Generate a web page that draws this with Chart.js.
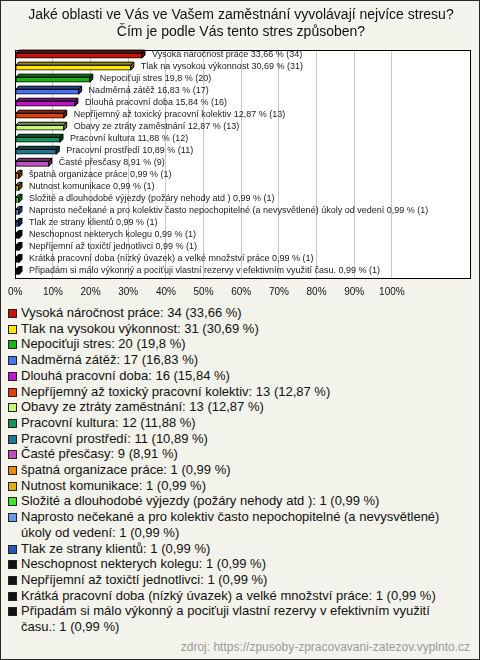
<!DOCTYPE html>
<html>
<head>
<meta charset="utf-8">
<script src="https://cdn.jsdelivr.net/npm/chart.js@4/dist/chart.umd.min.js"></script>
<style>
  html, body { margin: 0; padding: 0; }
  body { width: 480px; height: 660px; overflow: hidden; font-family: "Liberation Sans", Arial, sans-serif; }
  #frame { position: relative; width: 480px; height: 660px; box-sizing: border-box; border: 1px solid #2a2a2a; background: #f3f2eb; }
  #c { position: absolute; left: -1px; top: -1px; }
  #legend { position: absolute; left: 6px; top: 304px; width: 455px; font-size: 13px; line-height: 15.7px; color: #111; }
  .item { display: flex; align-items: flex-start; }
  .box { flex: 0 0 auto; width: 7px; height: 7px; border: 1px solid #222; margin: 4px 4px 0 1px; }
  .txt { flex: 1 1 auto; }
  #src { position: absolute; right: 9px; top: 639px; font-size: 12px; color: #9a9a9a; }
</style>
</head>
<body>
<div id="frame">
  <canvas id="c" width="480" height="300"></canvas>
  <div id="legend"></div>
  <div id="src">zdroj: https://zpusoby-zpracovavani-zatezov.vyplnto.cz</div>
</div>
<script>
const titleLines = [
  "Jaké oblasti ve Vás ve Vašem zaměstnání vyvolávají nejvíce stresu?",
  "Čím je podle Vás tento stres způsoben?"
];
const categories = [
  "Vysoká náročnost práce",
  "Tlak na vysokou výkonnost",
  "Nepociťuji stres",
  "Nadměrná zátěž",
  "Dlouhá pracovní doba",
  "Nepříjemný až toxický pracovní kolektiv",
  "Obavy ze ztráty zaměstnání",
  "Pracovní kultura",
  "Pracovní prostředí",
  "Časté přesčasy",
  "špatná organizace práce",
  "Nutnost komunikace",
  "Složité a dlouhodobé výjezdy (požáry nehody atd )",
  "Naprosto nečekané a pro kolektiv často nepochopitelné (a nevysvětlené) úkoly od vedení",
  "Tlak ze strany klientů",
  "Neschopnost nekterych kolegu",
  "Nepříjemní až toxičtí jednotlivci",
  "Krátká pracovní doba (nízký úvazek) a velké množství práce",
  "Připadám si málo výkonný a pociťuji vlastní rezervy v efektivním využití času."
];
const counts = [34, 31, 20, 17, 16, 13, 13, 12, 11, 9, 1, 1, 1, 1, 1, 1, 1, 1, 1];
const percents = [33.66, 30.69, 19.8, 16.83, 15.84, 12.87, 12.87, 11.88, 10.89, 8.91, 0.99, 0.99, 0.99, 0.99, 0.99, 0.99, 0.99, 0.99, 0.99];
const colors = [
  "#c8140a", "#ffe800", "#18b418", "#4a72f0", "#c018c8", "#e0400a", "#c8f878",
  "#16965a", "#1e7890", "#c050c0", "#e88a10", "#e0b010", "#48e030", "#6a98e8",
  "#2a58b8", "#111111", "#111111", "#111111", "#111111"
];
const tickValues = [0, 10, 20, 30, 40, 50, 60, 70, 80, 90, 100];

const fmt = v => String(v).replace('.', ',');

function shade(hex, f) {
  const n = parseInt(hex.slice(1), 16);
  const r = Math.round(((n >> 16) & 255) * f), g = Math.round(((n >> 8) & 255) * f), b = Math.round((n & 255) * f);
  return `rgb(${r},${g},${b})`;
}

const plotPlugin = {
  id: 'plotDeco',
  beforeDraw(chart) {
    const a = chart.chartArea, ctx = chart.ctx;
    ctx.save();
    ctx.fillStyle = '#ffffff';
    ctx.fillRect(a.left, a.top, a.right - a.left, a.bottom - a.top);
    ctx.restore();
  },
  afterDatasetsDraw(chart) {
    const ctx = chart.ctx, meta = chart.getDatasetMeta(0), d = 3;
    ctx.save();
    meta.data.forEach((el, i) => {
      const p = el.getProps(['x', 'y', 'base', 'height'], true);
      const top = p.y - p.height / 2, bottom = p.y + p.height / 2;
      const x0 = Math.min(p.base, p.x), x1 = Math.max(p.base, p.x);
      ctx.lineWidth = 1;
      ctx.strokeStyle = '#000';
      ctx.beginPath();
      ctx.moveTo(x0, top); ctx.lineTo(x0 + d, top - d); ctx.lineTo(x1 + d, top - d); ctx.lineTo(x1, top); ctx.closePath();
      ctx.fillStyle = shade(colors[i], 0.6);
      ctx.fill(); ctx.stroke();
      ctx.beginPath();
      ctx.moveTo(x1, top); ctx.lineTo(x1 + d, top - d); ctx.lineTo(x1 + d, bottom - d); ctx.lineTo(x1, bottom); ctx.closePath();
      ctx.fillStyle = shade(colors[i], 0.45);
      ctx.fill(); ctx.stroke();
      ctx.fillStyle = '#1a1a1a';
      ctx.font = '9px "Liberation Sans", Arial, sans-serif';
      ctx.textBaseline = 'middle';
      ctx.textAlign = 'left';
      ctx.fillText(`${categories[i]} ${fmt(percents[i])} % (${counts[i]})`, x1 + d + 7, p.y - 1);
    });
    ctx.restore();
  },
  afterDraw(chart) {
    const a = chart.chartArea, ctx = chart.ctx;
    ctx.save();
    ctx.strokeStyle = '#000';
    ctx.lineWidth = 1;
    ctx.strokeRect(Math.round(a.left) + 0.5, Math.round(a.top) + 0.5, Math.round(a.right - a.left) - 1, Math.round(a.bottom - a.top));
    ctx.restore();
  }
};

new Chart(document.getElementById('c'), {
  type: 'bar',
  data: {
    labels: categories,
    datasets: [{
      data: percents,
      backgroundColor: colors,
      borderColor: '#000',
      borderWidth: 1,
      borderSkipped: false,
      barThickness: 5
    }]
  },
  options: {
    indexAxis: 'y',
    responsive: false,
    animation: false,
    devicePixelRatio: 1,
    layout: { padding: { left: 11, right: 9, top: 0, bottom: 0 } },
    plugins: {
      legend: { display: false },
      tooltip: { enabled: false },
      title: {
        display: true,
        text: titleLines,
        color: '#111',
        font: { family: '"Liberation Sans", Arial, sans-serif', size: 14, weight: 'normal', lineHeight: 1.2 },
        padding: { top: 7, bottom: 9 }
      }
    },
    scales: {
      x: {
        type: 'linear',
        min: 0,
        max: 121,
        afterBuildTicks(scale) { scale.ticks = tickValues.map(v => ({ value: v })); },
        afterFit(scale) { scale.height = 22; },
        grid: { color: '#c8c8c8', lineWidth: 1, drawTicks: false },
        border: { display: false },
        ticks: {
          padding: 8,
          color: '#111',
          font: { family: '"Liberation Sans", Arial, sans-serif', size: 10 },
          callback: v => v + '%'
        }
      },
      y: {
        type: 'category',
        display: false,
        offset: true,
        grid: { display: false }
      }
    }
  },
  plugins: [plotPlugin]
});

const legend = document.getElementById('legend');
categories.forEach((c, i) => {
  const item = document.createElement('div');
  item.className = 'item';
  const box = document.createElement('span');
  box.className = 'box';
  box.style.background = colors[i];
  const t = document.createElement('span');
  t.className = 'txt';
  t.textContent = `${c}: ${counts[i]} (${fmt(percents[i])} %)`;
  item.appendChild(box); item.appendChild(t);
  legend.appendChild(item);
});
</script>
</body>
</html>
